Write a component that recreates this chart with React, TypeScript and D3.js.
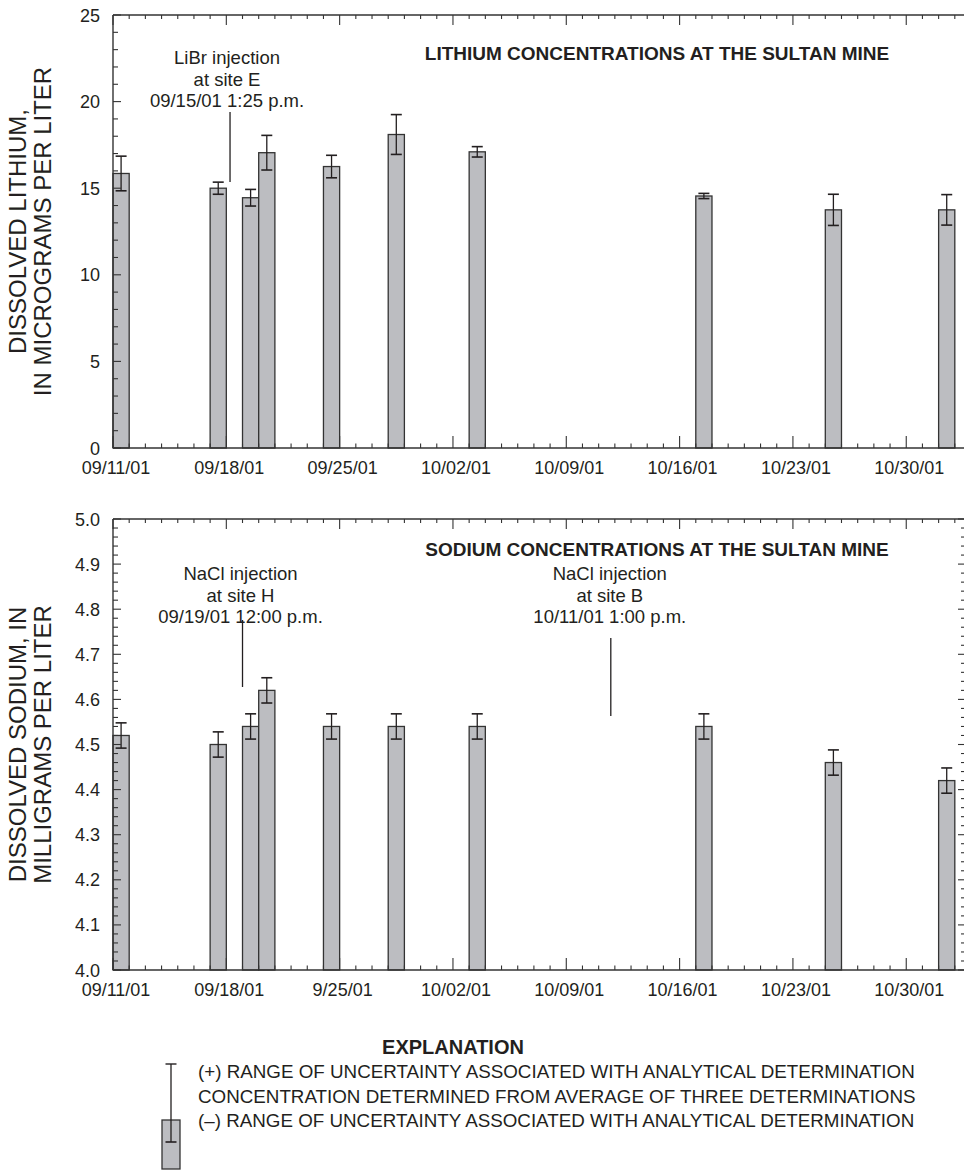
import * as d3 from 'd3';

// sample dates (one bar per day)
const sampleDates = ['2001-09-11', '2001-09-17', '2001-09-19', '2001-09-20', '2001-09-24', '2001-09-28', '2001-10-03', '2001-10-17', '2001-10-25', '2001-11-01'];

// lithium, micrograms per liter
const lithiumValues = [15.85, 15.0, 14.45, 17.05, 16.25, 18.1, 17.1, 14.55, 13.75, 13.75];
const lithiumUncert = [1.0, 0.35, 0.48, 1.0, 0.65, 1.15, 0.3, 0.15, 0.9, 0.88];

// sodium, milligrams per liter
const sodiumValues = [4.52, 4.5, 4.54, 4.62, 4.54, 4.54, 4.54, 4.54, 4.46, 4.42];
const sodiumUncert = [0.028, 0.028, 0.028, 0.028, 0.028, 0.028, 0.028, 0.028, 0.028, 0.028];

const lithiumXLabels = ['09/11/01', '09/18/01', '09/25/01', '10/02/01', '10/09/01', '10/16/01', '10/23/01', '10/30/01'];
const sodiumXLabels = ['09/11/01', '09/18/01', '9/25/01', '10/02/01', '10/09/01', '10/16/01', '10/23/01', '10/30/01'];
const lithiumYLabels = ['0', '5', '10', '15', '20', '25'];
const sodiumYLabels = ['4.0', '4.1', '4.2', '4.3', '4.4', '4.5', '4.6', '4.7', '4.8', '4.9', '5.0'];

// injection markers (where the line is drawn on the time axis)
const lithiumNotes = [
  { at: '2001-09-18T05:30', lines: ['LiBr injection', 'at site E', '09/15/01 1:25 p.m.'] },
];
const sodiumNotes = [
  { at: '2001-09-19T00:00', lines: ['NaCl injection', 'at site H', '09/19/01 12:00 p.m.'] },
  { at: '2001-10-11T18:00', lines: ['NaCl injection', 'at site B', '10/11/01 1:00 p.m.'] },
];

const legendLines = [
  '(+) RANGE OF UNCERTAINTY ASSOCIATED WITH ANALYTICAL DETERMINATION',
  'CONCENTRATION DETERMINED FROM AVERAGE OF THREE DETERMINATIONS',
  '(\u2013) RANGE OF UNCERTAINTY ASSOCIATED WITH ANALYTICAL DETERMINATION',
];

const parseDay = d3.utcParse('%Y-%m-%d');
const parseTime = d3.utcParse('%Y-%m-%dT%H:%M');
const INK = '#231f20';
const FONT = 'Arial, "Liberation Sans", Helvetica, sans-serif';
const BAR = '#bcbdc1';

const x = d3.scaleUtc()
  .domain([parseDay('2001-09-11')!, parseDay('2001-11-03')!])
  .range([113, 971]);

const dayTicks = d3.utcDay.range(parseDay('2001-09-11')!, parseDay('2001-11-03')!);
// weekly ticks counted from the first sample day
const majorTicks = d3.range(8).map(i => d3.utcDay.offset(parseDay('2001-09-11')!, i * 7));

function Panel({ top, bottom, yDomain, minorStep, majorStep, yLabels, xLabels, values, uncert, title, titleY, notes, yTitle, rightAxis }: any) {
  const y = d3.scaleLinear().domain(yDomain).range([bottom, top]);
  const left = 113;
  const xEnd = 971;
  const minor = d3.range(yDomain[0], yDomain[1] + minorStep / 2, minorStep);
  const major = d3.range(yDomain[0], yDomain[1] + majorStep / 2, majorStep);
  const isMajorY = (v: number) => major.some(m => Math.abs(m - v) < 1e-6);
  const isMajorX = (d: Date) => majorTicks.some(m => +m === +d);
  const midY = (top + bottom) / 2;
  const rx = 966;
  return (
    <g>
      {/* bars */}
      {sampleDates.map((s, i) => {
        const d0 = parseDay(s)!;
        const x0 = x(d0);
        const w = x(d3.utcDay.offset(d0, 1)) - x0;
        const cx = x0 + w / 2;
        const v = values[i];
        const e = uncert[i];
        return (
          <g key={s}>
            <rect x={x0} y={y(v)} width={w} height={y(yDomain[0]) - y(v)} fill={BAR} stroke="#333" strokeWidth={1.3} />
            <line x1={cx} x2={cx} y1={y(v + e)} y2={y(v - e)} stroke={INK} strokeWidth={1.3} />
            <line x1={cx - 5.5} x2={cx + 5.5} y1={y(v + e)} y2={y(v + e)} stroke={INK} strokeWidth={1.6} />
            <line x1={cx - 5.5} x2={cx + 5.5} y1={y(v - e)} y2={y(v - e)} stroke={INK} strokeWidth={1.6} />
          </g>
        );
      })}
      {/* frame */}
      <line x1={left} x2={xEnd} y1={top} y2={top} stroke="#333" strokeWidth={1.4} />
      <line x1={left} x2={xEnd} y1={bottom} y2={bottom} stroke="#333" strokeWidth={1.4} />
      <line x1={left} x2={left} y1={top} y2={bottom} stroke="#333" strokeWidth={1.4} />
      {/* x ticks, bottom and top */}
      {dayTicks.map(d => {
        const big = isMajorX(d);
        return (
          <g key={+d}>
            <line x1={x(d)} x2={x(d)} y1={bottom} y2={bottom - (big ? 12 : 4.5)} stroke="#333" strokeWidth={1.1} />
            <line x1={x(d)} x2={x(d)} y1={top} y2={top + (big ? 10 : 4)} stroke="#333" strokeWidth={1.1} />
          </g>
        );
      })}
      {majorTicks.map((d, i) => (
        <text key={i} x={x(d) + 3} y={bottom + 26} textAnchor="middle" fontSize={18} fill={INK} fontFamily={FONT}>{xLabels[i]}</text>
      ))}
      {/* y ticks */}
      {minor.map(v => {
        const big = isMajorY(v);
        return (
          <g key={v}>
            <line x1={left} x2={left + (big ? 8 : 5)} y1={y(v)} y2={y(v)} stroke="#333" strokeWidth={1.1} />
            {rightAxis && <line x1={rx} x2={rx - (big ? 8 : 5)} y1={y(v)} y2={y(v)} stroke="#333" strokeWidth={1.1} />}
          </g>
        );
      })}
      {major.map((v, i) => (
        <text key={i} x={100} y={y(v) + 6.5} textAnchor="end" fontSize={18} fill={INK} fontFamily={FONT}>{yLabels[i]}</text>
      ))}
      {/* titles */}
      <text x={657} y={titleY} textAnchor="middle" fontSize={19} fontWeight="bold" fill={INK} fontFamily={FONT}>{title}</text>
      {yTitle.map((t: string, i: number) => (
        <text key={i} transform={`translate(${26 + i * 25},${midY}) rotate(-90)`} textAnchor="middle" fontSize={24} fill={INK} fontFamily={FONT}>{t}</text>
      ))}
      {/* injection notes */}
      {notes.map((n: any, i: number) => {
        const nx = x(parseTime(n.at)!);
        return (
          <g key={i}>
            {n.lines.map((t: string, j: number) => (
              <text key={j} x={nx - 3 + n.dx} y={n.ty + j * 21.5} textAnchor="middle" fontSize={18.5} fill={INK} fontFamily={FONT}>{t}</text>
            ))}
            <line x1={nx} x2={nx} y1={n.y1} y2={n.y2} stroke={INK} strokeWidth={1.3} />
          </g>
        );
      })}
    </g>
  );
}

export default function App() {
  const liNotes = lithiumNotes.map(n => ({ ...n, dx: 0, ty: 64, y1: 112, y2: 182 }));
  const naNotes = sodiumNotes.map((n, i) => ({ ...n, dx: i === 0 ? 1 : 2, ty: 580, y1: i === 0 ? 620 : 638, y2: i === 0 ? 687 : 716 }));
  return (
    <svg width={964} height={1176} style={{ position: 'absolute', left: 0, top: 0, background: '#fff' }}>
      <Panel top={15} bottom={448} yDomain={[0, 25]} minorStep={1} majorStep={5}
        yLabels={lithiumYLabels} xLabels={lithiumXLabels} values={lithiumValues} uncert={lithiumUncert}
        title="LITHIUM CONCENTRATIONS AT THE SULTAN MINE" titleY={60} notes={liNotes}
        yTitle={['DISSOLVED LITHIUM,', 'IN MICROGRAMS PER LITER']} rightAxis={false} />
      <Panel top={519} bottom={970} yDomain={[4, 5]} minorStep={0.02} majorStep={0.1}
        yLabels={sodiumYLabels} xLabels={sodiumXLabels} values={sodiumValues} uncert={sodiumUncert}
        title="SODIUM CONCENTRATIONS AT THE SULTAN MINE" titleY={556} notes={naNotes}
        yTitle={['DISSOLVED SODIUM, IN', 'MILLIGRAMS PER LITER']} rightAxis={true} />
      {/* explanation */}
      <text x={453} y={1054} textAnchor="middle" fontSize={20} fontWeight="bold" fill={INK} fontFamily={FONT}>EXPLANATION</text>
      <rect x={162} y={1120} width={18} height={49} fill={BAR} stroke="#333" strokeWidth={1.3} />
      <line x1={171} x2={171} y1={1064} y2={1142} stroke={INK} strokeWidth={1.3} />
      <line x1={165.5} x2={176.5} y1={1064} y2={1064} stroke={INK} strokeWidth={1.4} />
      <line x1={165.5} x2={176.5} y1={1142} y2={1142} stroke={INK} strokeWidth={1.6} />
      {legendLines.map((t, i) => (
        <text key={i} x={198} y={1078 + i * 24.5} fontSize={18.8} fill={INK} fontFamily={FONT}>{t}</text>
      ))}
    </svg>
  );
}
